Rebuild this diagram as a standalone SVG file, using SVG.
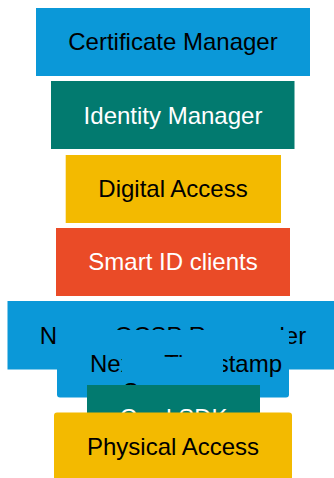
<svg xmlns="http://www.w3.org/2000/svg" width="334" height="478" viewBox="0 0 334 478">
<style>
text{font-family:"Liberation Sans",Arial,sans-serif;font-size:24px;text-anchor:middle}
.d{fill:#000}.w{fill:#fff}
.blue{fill:#0B98D8}.teal{fill:#027A6F}.yellow{fill:#F3BA00}.red{fill:#EA4B27}
</style>
<rect width="334" height="478" fill="#fff"/>
<g id="certificate-manager"><rect class="blue" x="36" y="8" width="274" height="68"/><text class="d" x="173" y="50">Certificate Manager</text></g>
<g id="identity-manager"><rect class="teal" x="51" y="81" width="243.500" height="68"/><text class="w" x="173" y="124">Identity Manager</text></g>
<g id="digital-access"><rect class="yellow" x="65.700" y="155" width="215.300" height="68"/><text class="d" x="173" y="197">Digital Access</text></g>
<g id="smart-id-clients"><rect class="red" x="56" y="228" width="234" height="68"/><text class="w" x="173" y="270">Smart ID clients</text></g>
<g id="ocsp-responder"><rect class="blue" x="7.500" y="301" width="326.500" height="68.500"/><text class="d" x="173" y="344">Nexus OCSP Responder</text></g>
<g id="timestamp-server"><rect class="blue" x="57" y="330" width="232" height="67.500" rx="3"/><text class="d" x="186" y="372">Nexus Timestamp</text><rect class="blue" x="122" y="357" width="101" height="24"/><text class="d" x="158" y="400">Server</text></g>
<g id="card-sdk"><rect class="teal" x="87" y="385" width="173" height="68"/><text class="w" x="173.500" y="426">Card SDK</text></g>
<g id="physical-access"><rect class="yellow" x="54" y="412.500" width="238" height="70" rx="3"/><text class="d" x="173" y="455">Physical Access</text></g>
<g id="connectors"></g>
</svg>
